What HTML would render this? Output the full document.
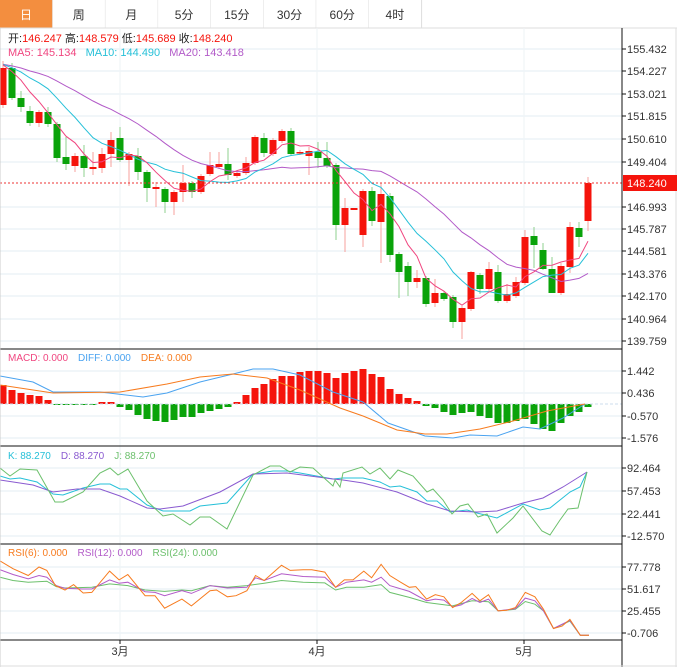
<!DOCTYPE html>
<html><head><meta charset="utf-8"><style>
body{margin:0;background:#fff;width:677px;height:667px;overflow:hidden;font-family:"Liberation Sans","Noto Sans CJK SC",sans-serif}
</style></head><body>
<svg id="s" width="677" height="667" xmlns="http://www.w3.org/2000/svg" style="position:absolute;left:0;top:0"></svg>
<script>
var o='';
function L(x1,y1,x2,y2,c,w,d){o+='<line x1="'+x1+'" y1="'+y1+'" x2="'+x2+'" y2="'+y2+'" stroke="'+c+'" stroke-width="'+(w||1)+'"'+(d?' stroke-dasharray="'+d+'"':'')+'/>';}
function R(x,y,w,h,c,s){o+='<rect x="'+x+'" y="'+y+'" width="'+w+'" height="'+h+'" fill="'+c+'"'+(s?' stroke="'+s+'"':'')+'/>';}
function T(x,y,t,c,sz,a){o+='<text x="'+x+'" y="'+y+'" fill="'+c+'" font-size="'+(sz||11)+'"'+(a?' text-anchor="'+a+'"':'')+'>'+t+'</text>';}
function P(pts,c,w){o+='<polyline fill="none" stroke="'+c+'" stroke-width="'+(w||1)+'" points="'+pts.map(function(p){return p[0]+','+p[1]}).join(' ')+'"/>';}
// tabs
var tabs=['日','周','月','5分','15分','30分','60分','4时'];
for(var i=0;i<8;i++){var x=i*52.7;R(x,0,52.7,28,i==0?'#f38e3f':'#fff');L(x+52.7,0,x+52.7,28,'#ddd');T(x+26,19,tabs[i],i==0?'#fff':'#333',12,'middle');}
L(0,28,677,28,'#ddd');
// grid
var py=[49,71,94,116,139,162,207,229,251,274,296,319,341],pl=['155.432','154.227','153.021','151.815','150.610','149.404','146.993','145.787','144.581','143.376','142.170','140.964','139.759'];
py.forEach(function(y){L(0,y,622,y,'#e3eef3');});
[371,393,416,438].forEach(function(y){L(0,y,622,y,'#e3eef3');});
[468,491,514,536].forEach(function(y){L(0,y,622,y,'#e3eef3');});
[567,589,611,633].forEach(function(y){L(0,y,622,y,'#e3eef3');});
[120,317,524].forEach(function(x){L(x,28,x,640,'#eef3f6');});
// candles
var C=[['r',68,105,61,108],['g',68,98,63,100],['g',98,107,91,112],['g',111,123,106,126],['r',112,123,110,127],['g',112,124,107,127],['g',124,158,122,162],['g',157,164,137,170],['r',156,166,153,172],['g',156,168,145,177],['r',167,169,152,175],['r',154,168,148,173],['r',140,154,132,167],['g',138,160,127,162],['r',154,160,152,186],['g',156,172,148,180],['g',172,188,170,202],['r',187,189,182,207],['g',189,202,187,213],['r',192,202,190,215],['r',183,192,165,202],['g',183,192,181,198],['r',176,192,174,194],['r',165,174,152,176],['r',164,167,152,169],['g',164,175,148,180],['r',173,176,171,178],['r',163,173,157,175],['r',137,163,135,165],['g',138,153,133,157],['r',140,154,138,156],['r',131,141,129,143],['g',131,154,128,156],['r',152,153,150,155],['r',151,156,147,175],['g',152,158,142,168],['g',158,166,142,168],['g',165,225,163,240],['r',208,225,198,252],['r',208,210,208,210],['r',191,235,189,247],['g',191,221,187,226],['r',194,222,183,263],['g',196,255,193,262],['g',254,272,252,298],['g',266,282,262,296],['r',278,282,270,288],['g',278,304,276,307],['r',293,303,279,307],['g',293,299,291,301],['g',297,322,295,328],['r',308,322,306,339],['r',272,309,271,311],['g',275,289,273,294],['r',269,289,262,291],['g',272,301,265,303],['r',294,301,284,303],['r',282,296,277,298],['r',237,283,230,285],['g',236,245,227,268],['g',250,269,243,270],['g',269,293,257,293],['r',266,293,263,295],['r',227,267,222,273],['g',228,237,222,247],['r',183,221,177,231]];
function cx(i){return 3+9*i;}
C.forEach(function(c,i){var col=c[0]=='r'?'#f5140c':'#0aa30a',x=cx(i);L(x,c[3],x,c[4],c[0]=='r'?'#f7a09c':'#8fd08f');R(x-3.5,c[1],7,Math.max(1.5,c[2]-c[1]),col);});
var cl=C.map(function(c){return c[0]=='r'?c[1]:c[2];});
var pad=[];for(var i=0;i<19;i++)pad.push(64);var all=pad.concat(cl);
function ma(n){var r=[];for(var i=0;i<cl.length;i++){var s=0;for(var k=0;k<n;k++)s+=all[19+i-k];r.push([cx(i),(s/n).toFixed(1)]);}return r;}
P(ma(20),'#b25ac8');P(ma(10),'#26c0d8');P(ma(5),'#f0457f');
L(0,183,622,183,'#e33','1','2,2');
// macd
var H=[385,390,393,395,396,400,405,405,405,405,404.5,402,402,407,410,415,419,421,422,420,417,417,413,411,409,407,402,395,388,384,379,376,376,372,371,371,373,378,373,371,369,374,377,389,394,398,401,406,408,412,415,413,412,416,418,423,423,421,419,424,429,431,423,416,412,407];
H.forEach(function(y,i){var x=cx(i)-3.5;if(y<404)R(x,y,7,404-y,'#f5140c');else R(x,404,7,Math.max(1,y-404),'#0aa30a');});
L(0,404,622,404,'#cde','1','3,2');
P([[0,376],[33,382],[53,392],[100,392],[143,397],[167,393],[200,382],[233,374],[253,369],[273,369],[300,375],[333,392],[363,402],[388,423],[425,436],[453,438],[470,435],[497,436],[523,427],[540,429],[563,418],[585,404]],'#4aa3f0');
P([[0,385],[53,393],[120,392],[167,384],[200,377],[233,374],[267,378],[300,390],[340,408],[363,416],[397,430],[425,434],[447,434],[480,429],[513,421],[547,411],[585,404]],'#f77b1e');
// kdj
P([[0,476],[10,479],[20,478],[37,482],[53,494],[63,495],[83,488],[100,484],[110,484],[120,489],[127,489],[147,505],[163,511],[190,511],[200,506],[227,503],[253,474],[273,471],[287,471],[300,473],[333,479],[343,478],[363,478],[380,482],[390,487],[400,486],[417,492],[427,501],[437,501],[450,512],[467,510],[477,513],[497,518],[523,504],[540,510],[550,508],[570,492],[580,487],[587,472]],'#26c0d8');
P([[0,480],[33,485],[53,492],[77,489],[100,489],[120,496],[147,508],[160,509],[183,506],[220,492],[253,474],[287,473],[333,479],[343,480],[363,483],[397,492],[427,504],[450,511],[477,512],[497,511],[523,503],[543,498],[563,487],[587,472]],'#8a5ad0');
P([[0,468],[10,476],[20,469],[37,470],[55,502],[63,502],[83,492],[100,473],[110,468],[118,475],[128,469],[147,501],[163,516],[173,514],[190,525],[200,517],[210,517],[227,529],[253,475],[270,466],[280,466],[290,472],[300,467],[313,468],[333,486],[335,480],[340,487],[343,473],[362,467],[370,474],[380,468],[390,479],[398,470],[413,476],[427,492],[433,489],[443,500],[452,514],[460,506],[468,504],[478,517],[487,514],[497,533],[513,518],[523,506],[542,531],[550,535],[560,520],[568,509],[578,508],[587,472]],'#6cc06c');
// rsi
function rs(a){return a.map(function(p){return [(p[0]/2.309).toFixed(1),(540+p[1]/2.96).toFixed(1)];});}
P(rs([[0,110],[30,120],[65,125],[108,122],[130,138],[150,142],[212,140],[253,130],[295,135],[335,148],[380,152],[420,148],[442,150],[485,135],[525,140],[570,135],[610,128],[650,120],[700,125],[750,127],[775,148],[800,140],[840,140],[880,132],[900,155],[945,170],[985,185],[1045,195],[1090,180],[1128,183],[1150,210],[1190,205],[1213,182],[1235,190],[1255,210],[1278,262],[1316,240],[1340,282],[1360,282]]),'#6cc06c');
P(rs([[0,88],[30,102],[65,115],[90,105],[108,110],[130,135],[150,143],[190,145],[212,145],[253,118],[275,128],[295,125],[335,153],[358,155],[380,165],[420,150],[442,158],[485,135],[525,142],[570,140],[590,112],[610,120],[650,100],[700,108],[750,110],[775,140],[800,125],[840,118],[858,125],[880,110],[900,135],[945,152],[985,180],[1005,175],[1025,178],[1045,198],[1065,192],[1090,173],[1108,185],[1128,175],[1150,210],[1190,203],[1213,172],[1235,180],[1255,210],[1278,262],[1316,238],[1340,282],[1360,282]]),'#b25ac8');
P(rs([[0,62],[30,85],[65,105],[90,80],[108,90],[128,135],[150,148],[170,132],[192,157],[212,155],[253,92],[275,118],[295,102],[335,165],[358,165],[380,202],[420,175],[442,195],[485,150],[500,148],[525,168],[545,165],[570,150],[590,105],[610,120],[650,75],[670,90],[700,88],[720,88],[750,95],[775,140],[795,118],[815,118],[840,92],[858,112],[880,72],[900,105],[925,125],[945,140],[960,138],[985,175],[1005,162],[1025,168],[1045,200],[1065,185],[1090,158],[1108,180],[1128,162],[1150,210],[1170,208],[1190,200],[1213,155],[1235,168],[1255,205],[1278,262],[1298,255],[1316,235],[1340,282],[1360,282]]),'#f77b1e');
// separators & axis
[349,446,544,640].forEach(function(y){L(0,y,622,y,'#111');});
L(622,28,622,667,'#111');L(0,28,0,667,'#ccc');L(676,28,676,667,'#ddd');L(0,666,677,666,'#ddd');
py.forEach(function(y,i){L(622,y,626,y,'#111');T(627,y+4,pl[i],'#333',11);});
[[371,'1.442'],[393,'0.436'],[416,'-0.570'],[438,'-1.576'],[468,'92.464'],[491,'57.453'],[514,'22.441'],[536,'-12.570'],[567,'77.778'],[589,'51.617'],[611,'25.455'],[633,'-0.706']].forEach(function(a){L(622,a[0],626,a[0],'#111');T(627,a[0]+4,a[1],'#333',11);});
R(623,175,54,16,'#f5140c');T(627,187,'148.240','#fff',11);
[[120,'3月'],[317,'4月'],[524,'5月']].forEach(function(a){L(a[0],640,a[0],644,'#111');T(a[0],655,a[1],'#333',11,'middle');});
// legends
o+='<text x="8" y="42" font-size="11"><tspan fill="#222">开:</tspan><tspan fill="#f5140c">146.247 </tspan><tspan fill="#222">高:</tspan><tspan fill="#f5140c">148.579 </tspan><tspan fill="#222">低:</tspan><tspan fill="#f5140c">145.689 </tspan><tspan fill="#222">收:</tspan><tspan fill="#f5140c">148.240</tspan></text>';
o+='<text x="8" y="56" font-size="11"><tspan fill="#f0457f">MA5: 145.134 </tspan><tspan fill="#26c0d8" dx="6">MA10: 144.490 </tspan><tspan fill="#b25ac8" dx="6">MA20: 143.418</tspan></text>';
o+='<text x="8" y="361" font-size="10"><tspan fill="#f0457f">MACD: 0.000</tspan><tspan fill="#4aa3f0" dx="10">DIFF: 0.000</tspan><tspan fill="#f77b1e" dx="10">DEA: 0.000</tspan></text>';
o+='<text x="8" y="459" font-size="10"><tspan fill="#26c0d8">K: 88.270</tspan><tspan fill="#8a5ad0" dx="10">D: 88.270</tspan><tspan fill="#6cc06c" dx="10">J: 88.270</tspan></text>';
o+='<text x="8" y="556" font-size="10"><tspan fill="#f77b1e">RSI(6): 0.000</tspan><tspan fill="#b25ac8" dx="10">RSI(12): 0.000</tspan><tspan fill="#6cc06c" dx="10">RSI(24): 0.000</tspan></text>';
document.getElementById('s').innerHTML=o;
</script>
</body></html>
